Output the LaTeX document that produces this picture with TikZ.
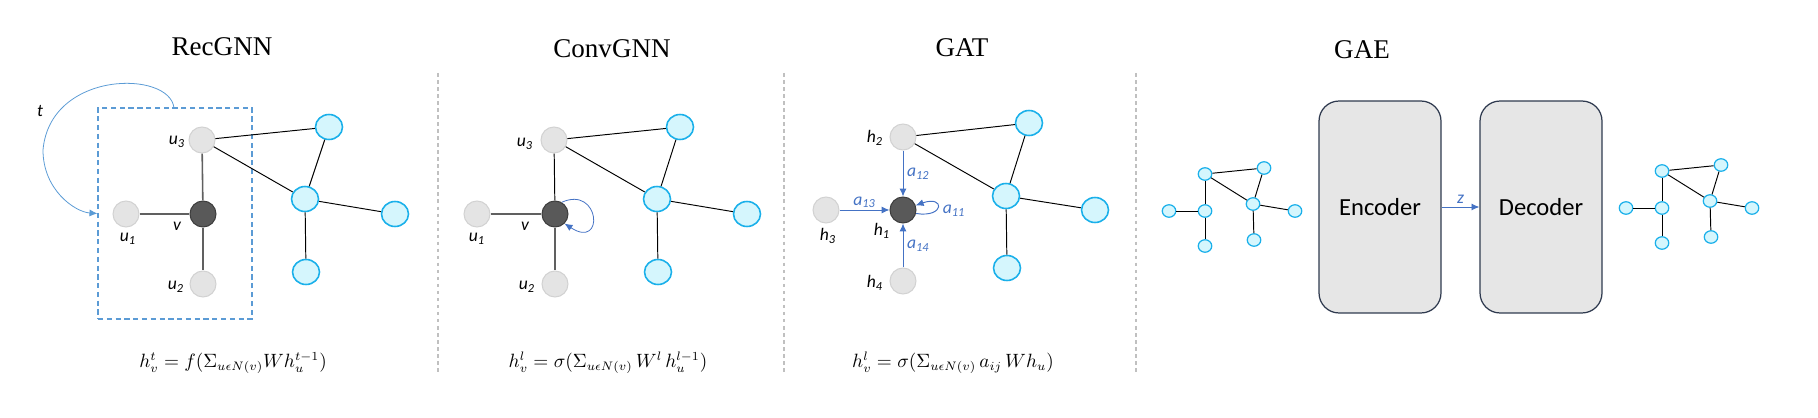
\documentclass[tikz,border=0pt]{standalone}
\usepackage{fontspec}
\usepackage{tikz}
\usetikzlibrary{shapes, arrows, arrows.meta, calc}
\newfontfamily\titlefont{Liberation Serif}
\newfontfamily\lblfont{Carlito}
\definecolor{cyanfill}{HTML}{D5F6FD}
\definecolor{cyanline}{HTML}{1AB0EA}
\definecolor{nodegray}{HTML}{E4E4E4}
\definecolor{nodegrayline}{HTML}{D2D2D2}
\definecolor{darknode}{HTML}{595959}
\definecolor{arrowblue}{HTML}{4472C4}
\definecolor{boxblue}{HTML}{5B9BD5}
\definecolor{sepgray}{HTML}{C0C0C0}
\definecolor{encfill}{HTML}{E6E6E6}
\definecolor{encline}{HTML}{2F3A4F}
\tikzstyle{title} = [font=\titlefont\fontsize{15.4}{18}\selectfont]
\tikzstyle{lbl} = [font=\lblfont\itshape\fontsize{10}{12}\selectfont, inner sep=1pt]
\tikzstyle{alab} = [lbl, text=arrowblue]
\tikzstyle{formula} = [font=\fontsize{10.5}{12}\selectfont]
\tikzstyle{nbr} = [circle, draw=nodegrayline, fill=nodegray, line width=0.6pt,
    minimum size=0.52cm, inner sep=0pt]
\tikzstyle{target} = [circle, draw=darknode!70!black, fill=darknode, line width=0.6pt,
    minimum size=0.52cm, inner sep=0pt]
\tikzstyle{other} = [ellipse, draw=cyanline, fill=cyanfill, line width=0.9pt,
    minimum width=0.54cm, minimum height=0.5cm, inner sep=0pt]
\tikzstyle{mini} = [ellipse, draw=cyanline, fill=cyanfill, line width=0.7pt,
    minimum width=0.27cm, minimum height=0.25cm, inner sep=0pt]
\tikzstyle{coder} = [rectangle, rounded corners=0.4cm, draw=encline, fill=encfill,
    line width=0.7pt, minimum width=2.44cm, minimum height=4.24cm,
    font=\lblfont\fontsize{14}{16}\selectfont]
\tikzstyle{window} = [rectangle, draw=boxblue, line width=0.7pt, dash pattern=on 3pt off 2pt,
    minimum width=3.08cm, minimum height=4.22cm]
\tikzstyle{line} = [draw, line width=0.55pt]
\tikzstyle{spoke} = [draw, gray!75!black, line width=0.9pt]
\tikzstyle{attn} = [draw, arrowblue, line width=0.55pt, -{Latex[length=4.5pt,width=4pt]}]
\tikzstyle{divider} = [draw, sepgray, line width=0.6pt, dash pattern=on 2pt off 2pt]

\begin{document}
\begin{tikzpicture}[x=0.02cm, y=-0.02cm]
    \useasboundingbox (0,0) rectangle (1818,418);
    % Titles
    \node [title] (rectitle) at (222,47) {RecGNN};
    \node [title] (convtitle) at (612,49) {ConvGNN};
    \node [title] (gattitle) at (962,48) {GAT};
    \node [title] (gaetitle) at (1362,50) {GAE};
    % Dividers
    \draw [divider] (438,73) -- (438,372);
    \draw [divider] (784,73) -- (784,372);
    \draw [divider] (1136,73) -- (1136,372);

    % RecGNN
    \node [window] (recbox) at (175,213.5) {};
    \node [nbr] (r-u3) at (202,140) {};
    \node [target] (r-v) at (203,214) {};
    \node [nbr] (r-u1) at (126,214) {};
    \node [nbr] (r-u2) at (203,284) {};
    \node [other] (r-b1) at (329,127) {};
    \node [other] (r-b2) at (305,199) {};
    \node [other] (r-b3) at (395,214) {};
    \node [other] (r-b4) at (306,272) {};
    \node [lbl] (r-lu3) at (177,142) {u\textsubscript{3}};
    \node [lbl] (r-lv) at (177,226) {v};
    \node [lbl] (r-lu1) at (128,239) {u\textsubscript{1}};
    \node [lbl] (r-lu2) at (176,287) {u\textsubscript{2}};
    \node [lbl] (r-lt) at (40,111) {t};
    \path [spoke] (r-u1) -- (r-v);
    \path [spoke] (r-v) -- (r-u3);
    \path [spoke] (r-v) -- (r-u2);
    \path [line] (r-u3) -- (r-b1);
    \path [line] (r-u3) -- (r-b2);
    \path [line] (r-b1) -- (r-b2);
    \path [line] (r-b2) -- (r-b3);
    \path [line] (r-b2) -- (r-b4);
    \draw [attn, boxblue, line width=0.45pt] (174,108) .. controls (170,70) and (50,70) .. (43,150)
        .. controls (43,190) and (75,212) .. (recbox.west);
    \node [formula] (recform) at (233,363) {$h_v^t = f(\Sigma_{u\epsilon N(v)} W h_u^{t-1})$};

    % ConvGNN
    \node [nbr] (c-u3) at (554,140) {};
    \node [target] (c-v) at (555,214) {};
    \node [nbr] (c-u1) at (477,214) {};
    \node [nbr] (c-u2) at (555,284) {};
    \node [other] (c-b1) at (680,127) {};
    \node [other] (c-b2) at (657,199) {};
    \node [other] (c-b3) at (747,214) {};
    \node [other] (c-b4) at (658,272) {};
    \node [lbl] (c-lu3) at (525,144) {u\textsubscript{3}};
    \node [lbl] (c-lv) at (525,226) {v};
    \node [lbl] (c-lu1) at (477,239) {u\textsubscript{1}};
    \node [lbl] (c-lu2) at (527,287) {u\textsubscript{2}};
    \path [spoke] (c-u1) -- (c-v);
    \path [line] (c-v) -- (c-u3);
    \path [spoke] (c-v) -- (c-u2);
    \path [line] (c-u3) -- (c-b1);
    \path [line] (c-u3) -- (c-b2);
    \path [line] (c-b1) -- (c-b2);
    \path [line] (c-b2) -- (c-b3);
    \path [line] (c-b2) -- (c-b4);
    \draw [attn, line width=0.45pt] (c-v.60) .. controls (600,185) and (605,250) .. (c-v.-45);
    \node [formula] (convform) at (608,363) {$h_v^l = \sigma(\Sigma_{u\epsilon N(v)}\, W^l\, h_u^{l-1})$};

    % GAT
    \node [nbr] (g-h2) at (903,137) {};
    \node [target] (g-h1) at (903,210) {};
    \node [nbr] (g-h3) at (826,210) {};
    \node [nbr] (g-h4) at (903,281) {};
    \node [other] (g-b1) at (1029,123) {};
    \node [other] (g-b2) at (1006,196) {};
    \node [other] (g-b3) at (1095,210) {};
    \node [other] (g-b4) at (1007,268) {};
    \node [lbl] (g-lh2) at (875,138) {h\textsubscript{2}};
    \node [lbl] (g-lh3) at (828,236) {h\textsubscript{3}};
    \node [lbl] (g-lh1) at (882,231) {h\textsubscript{1}};
    \node [lbl] (g-lh4) at (875,283) {h\textsubscript{4}};
    \path [line] (g-h2) -- (g-b1);
    \path [line] (g-h2) -- (g-b2);
    \path [line] (g-b1) -- (g-b2);
    \path [line] (g-b2) -- (g-b3);
    \path [line] (g-b2) -- (g-b4);
    \path [attn] (g-h2) -- node [alab, right=1pt] {a\textsubscript{12}} (g-h1);
    \path [attn] (g-h3) -- node [alab, above] {a\textsubscript{13}} (g-h1);
    \path [attn] (g-h4) -- node [alab, right=1pt] {a\textsubscript{14}} (g-h1);
    \draw [attn] (g-h1.-15) .. controls (945,218) and (945,195) .. (g-h1.20);
    \node [alab] (g-la11) at (954,211) {a\textsubscript{11}};
    \node [formula] (gatform) at (953,363) {$h_v^l = \sigma(\Sigma_{u\epsilon N(v)}\, a_{ij}\, W h_u)$};

    % GAE
    \node [coder] (enc) at (1380,207) {Encoder};
    \node [coder] (dec) at (1541,207) {Decoder};
    \path [attn] (enc) -- node [alab, above=1pt] {z} (dec);
    \begin{scope}[shift={(1205,174)}]
        \node [mini] (in-a) at (0,0) {};
        \node [mini] (in-b) at (59,-6) {};
        \node [mini] (in-c) at (48,30) {};
        \node [mini] (in-d) at (90,37) {};
        \node [mini] (in-e) at (49,66) {};
        \node [mini] (in-f) at (0,37) {};
        \node [mini] (in-g) at (-36,37) {};
        \node [mini] (in-h) at (0,72) {};
    \end{scope}
    \begin{scope}[shift={(1662,171)}]
        \node [mini] (out-a) at (0,0) {};
        \node [mini] (out-b) at (59,-6) {};
        \node [mini] (out-c) at (48,30) {};
        \node [mini] (out-d) at (90,37) {};
        \node [mini] (out-e) at (49,66) {};
        \node [mini] (out-f) at (0,37) {};
        \node [mini] (out-g) at (-36,37) {};
        \node [mini] (out-h) at (0,72) {};
    \end{scope}
    \path [line] (in-a) -- (in-b);
    \path [line] (in-a) -- (in-c);
    \path [line] (in-b) -- (in-c);
    \path [line] (in-c) -- (in-d);
    \path [line] (in-c) -- (in-e);
    \path [line] (in-a) -- (in-f);
    \path [line] (in-f) -- (in-g);
    \path [line] (in-f) -- (in-h);
    \path [line] (out-a) -- (out-b);
    \path [line] (out-a) -- (out-c);
    \path [line] (out-b) -- (out-c);
    \path [line] (out-c) -- (out-d);
    \path [line] (out-c) -- (out-e);
    \path [line] (out-a) -- (out-f);
    \path [line] (out-f) -- (out-g);
    \path [line] (out-f) -- (out-h);
\end{tikzpicture}
\end{document}
